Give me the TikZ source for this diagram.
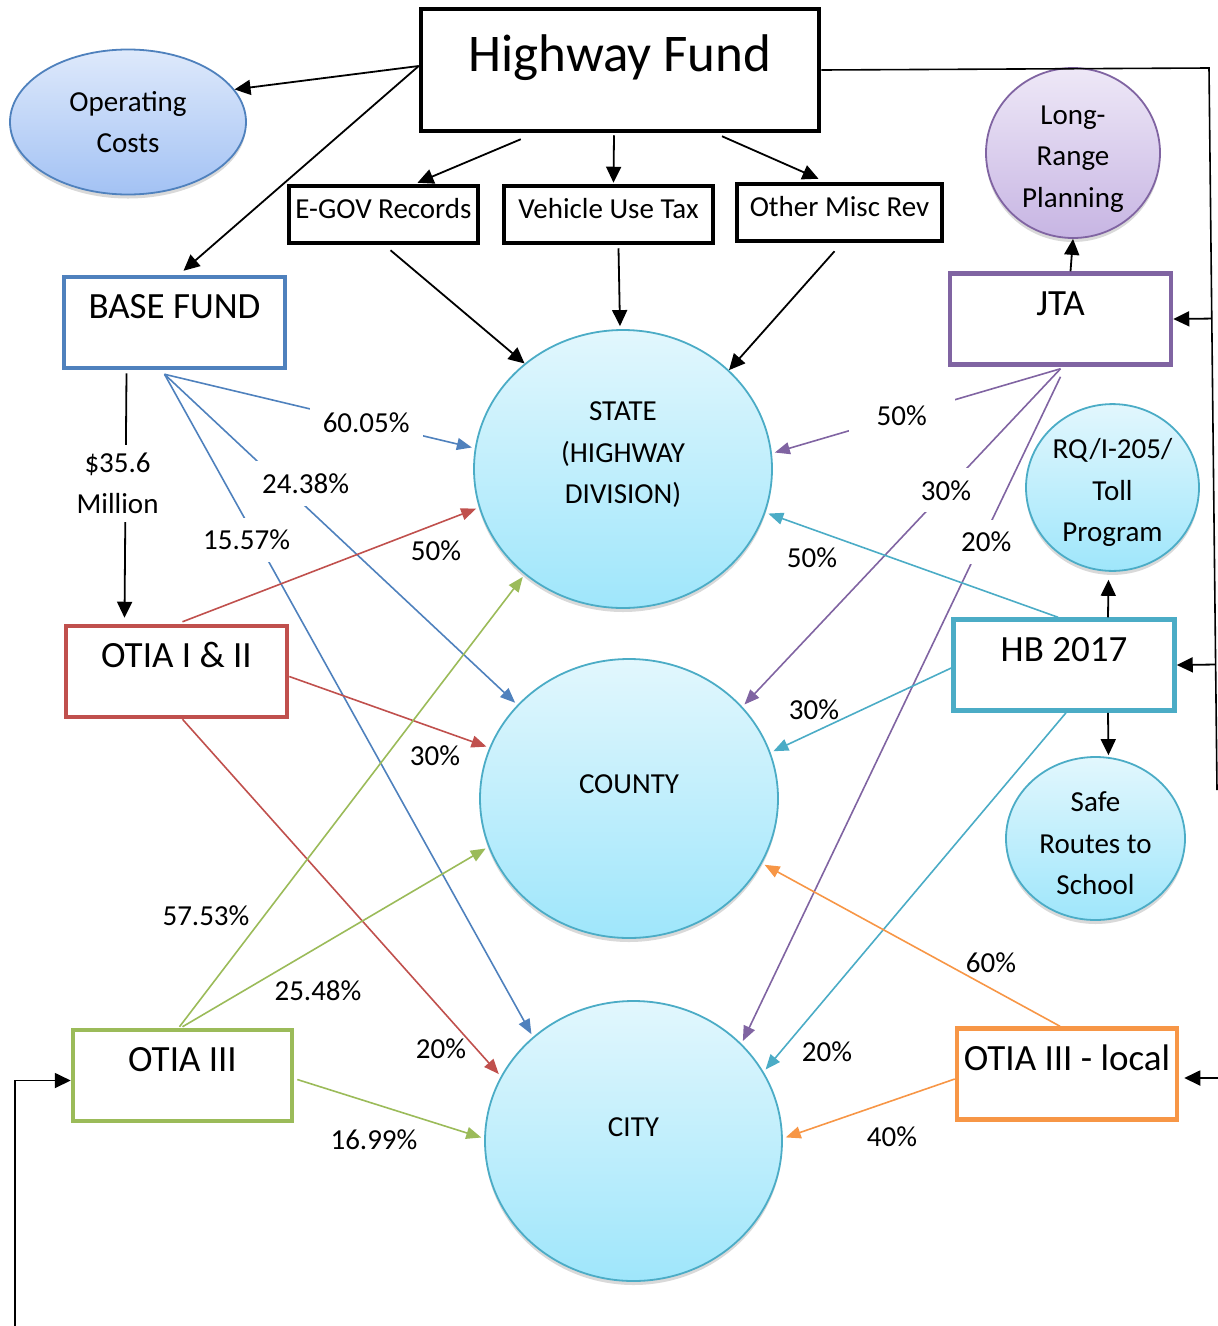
\documentclass[tikz,border=0pt]{standalone}
\usepackage{fontspec}
\setmainfont{Carlito}
\usepackage{xcolor}
\usepackage{tikz}
\usetikzlibrary{arrows.meta,calc,shapes.geometric,shadows}

\definecolor{hwblue}{HTML}{4F81BD}
\definecolor{hwred}{HTML}{C0504D}
\definecolor{hwgreen}{HTML}{9BBB59}
\definecolor{hwpurple}{HTML}{8064A2}
\definecolor{hwteal}{HTML}{4BACC6}
\definecolor{hworange}{HTML}{F79646}
\definecolor{cytop}{HTML}{E2F7FD}
\definecolor{cybot}{HTML}{9FE6FB}
\definecolor{optop}{HTML}{DEE9FB}
\definecolor{opbot}{HTML}{A3C2F4}
\definecolor{lrtop}{HTML}{EEE8F7}
\definecolor{lrbot}{HTML}{C7B5E3}

\newcommand{\lift}{\rule{0pt}{30pt}}

\tikzset{
	srcbox/.style={draw=black, line width=4.5pt, fill=white, minimum height=57pt, inner sep=0pt,
		text height=22pt, text depth=14pt, font=\fontsize{29}{35}\selectfont},
	fundbox/.style={draw, line width=4.5pt, fill=white, minimum width=221pt, minimum height=91pt,
		inner sep=0pt, text height=28pt, text depth=36pt, font=\fontsize{37}{44}\selectfont},
	oval/.style={ellipse, draw=hwteal, line width=1.8pt, top color=cytop, bottom color=cybot,
		inner sep=0pt, align=center, font=\fontsize{29}{41.5}\selectfont,
		drop shadow={opacity=0.3, shadow xshift=0pt, shadow yshift=-4pt}},
	ovaltext/.style={align=center, font=\fontsize{29}{41.5}\selectfont},
	pct/.style={text=black, font=\fontsize{29}{35}\selectfont},
	pctl/.style={pct, fill=white, inner xsep=6pt, inner ysep=12pt},
	feed/.style={line width=1.8pt, -{Triangle[length=16pt,width=15pt]}},
	wire/.style={line width=1.6pt},
	flow/.style={line width=1.6pt, -{Triangle[length=15pt,width=12pt]}, shorten >=3pt}
}

\begin{document}
\begin{tikzpicture}[x=1pt, y=-1pt]
	\useasboundingbox (0,0) rectangle (1218,1326);

	% revenue sources
	\node[srcbox, minimum width=398pt, minimum height=122pt, text height=40pt, text depth=38pt,
		font=\fontsize{53}{60}\selectfont] (hwy) at (620,70) {Highway Fund};
	\node[srcbox, minimum width=189pt] (egov) at (383.5,214.5) {E-GOV Records};
	\node[srcbox, minimum width=209pt] (vut) at (608.5,214.5) {Vehicle Use Tax};
	\node[srcbox, minimum width=205pt] (misc) at (839.5,212.5) {Other Misc Rev};

	\node[oval, draw=hwblue, top color=optop, bottom color=opbot, minimum width=236pt, minimum height=145pt] (opcost) at (128,122) {Operating\\Costs};
	\node[oval, draw=hwpurple, top color=lrtop, bottom color=lrbot, minimum width=174pt, minimum height=170pt] (lrp) at (1073,153) {\lift Long-\\Range\\Planning};
	\node[oval, minimum width=173pt, minimum height=165pt] (rq) at (1112.5,487.5) {\lift RQ/I-205/\\Toll\\Program};
	\node[oval, minimum width=179pt, minimum height=163pt] (safe) at (1095.5,838.5) {\lift Safe\\Routes to\\School};

	% receivers
	\node[oval, minimum width=298pt, minimum height=278pt] (state) at (623,469) {};
	\node[ovaltext] (statetxt) at ($(state)+(0,-14)$) {STATE\\(HIGHWAY\\DIVISION)};
	\node[oval, minimum width=298pt, minimum height=279pt] (county) at (629,798.5) {};
	\node[ovaltext] (countytxt) at ($(county)+(0,-14)$) {COUNTY};
	\node[oval, minimum width=297pt, minimum height=280pt] (city) at (633.5,1141) {};
	\node[ovaltext] (citytxt) at ($(city)+(0,-14)$) {CITY};

	% funds
	\node[fundbox, draw=hwblue] (base) at (174.5,322.5) {BASE FUND};
	\node[fundbox, draw=hwpurple] (jta) at (1060.5,319) {JTA};
	\node[fundbox, draw=hwred] (otia12) at (176.5,671.5) {OTIA I \& II};
	\node[fundbox, draw=hwteal] (hb) at (1064,665) {HB 2017};
	\node[fundbox, draw=hwgreen, minimum width=219pt] (otia3) at (182.5,1075.5) {OTIA III};
	\node[fundbox, draw=hworange, minimum width=220pt] (otia3l) at (1067,1074) {OTIA III - local};

	% black feeds
	\draw[feed] ($(hwy.west)+(0,-4)$) -- (opcost.17);
	\draw[feed] ($(hwy.west)+(0,-4)$) -- ($(base.north)+(9,-4)$);
	\draw[feed] ($(hwy.south west)+(102,6)$) -- ($(egov.north)+(34,-1)$);
	\draw[feed] ($(hwy.south)+(-6,2)$) -- ($(vut.north)+(5,-1)$);
	\draw[feed] ($(hwy.south)+(102,3)$) -- ($(misc.north)+(-21,-3)$);
	\draw[feed] ($(egov.south)+(7,5)$) -- (state.133);
	\draw[feed] ($(vut.south)+(10,3)$) -- ($(state.north)+(-3,-3)$);
	\draw[feed] ($(misc.south)+(-5,8)$) -- (state.43);

	\coordinate (rtop) at (1209,68);
	\coordinate (rbot) at (1217,790);
	\draw[wire] (hwy.east) -- (rtop) -- (rbot);
	\draw[feed] ($(rtop)!(jta.east)!(rbot)$) -- (jta.east);
	\draw[feed] ($(rtop)!(hb.east)!(rbot)$) -- (hb.east);
	\coordinate (redge) at (1218,1078);
	\draw[feed] (redge) -- ($(otia3l.east)+(5,4)$);
	\coordinate (lbot) at (15,1326);
	\draw[feed] (lbot) |- ($(otia3.west)+(0,5)$);

	\draw[feed] ($(jta.north)+(10,0)$) -- (lrp.south);
	\draw[feed] ($(hb.north)+(44,0)$) -- ($(rq.south)+(-4,8)$);
	\draw[feed] ($(hb.south)+(44,0)$) -- ($(safe.north)+(13,-1)$);
	\draw[feed] ($(base.south)+(-48,3)$) -- node[pctl, pos=0.45, xshift=-8pt, inner ysep=8pt, align=center,
		font=\fontsize{29}{41}\selectfont] (lmil) {\$35.6\\Million} ($(otia12.north)+(-52,-6)$);

	% BASE FUND split
	\coordinate (bsplit) at ($(base.south)+(-10,4)$);
	\draw[flow, hwblue] (bsplit) -- node[pctl, pos=0.65, inner xsep=13pt] (l6005) {60.05\%} (state.172);
	\draw[flow, hwblue] (bsplit) -- node[pctl, pos=0.40, yshift=23pt] (l2438) {24.38\%} (county.140);
	\draw[flow, hwblue] (bsplit) -- node[pctl, pos=0.25, xshift=-10pt] (l1557) {15.57\%} (city.134);

	% OTIA I & II split
	\draw[flow, hwred] ($(otia12.north)+(6,-2)$) -- (state.195);
	\draw[flow, hwred] ($(otia12.east)+(0,5)$) -- (county.160);
	\draw[flow, hwred] ($(otia12.south)+(6,0)$) -- (city.154);
	\node[pct] (r50) at (436,551) {50\%};
	\node[pct] (r30) at (435,756) {30\%};
	\node[pct] (r20) at (441,1049) {20\%};

	% OTIA III split
	\draw[flow, hwgreen] ($(otia3.north)+(-3,-1)$) -- (state.227);
	\draw[flow, hwgreen] ($(otia3.north)+(0,-1)$) -- (county.199);
	\draw[flow, hwgreen] ($(otia3.east)+(3,4)$) -- (city.179);
	\node[pct] (g5753) at (206,916) {57.53\%};
	\node[pct] (g2548) at (318,991) {25.48\%};
	\node[pct] (g1699) at (374,1140) {16.99\%};

	% JTA split
	\coordinate (jsplit) at ($(jta.south)+(0,2)$);
	\draw[flow, hwpurple] (jsplit) -- node[pctl, pos=0.55, inner xsep=28pt] (j50) {50\%} (state.6);
	\draw[flow, hwpurple] (jsplit) -- node[pctl, pos=0.36] (j30) {30\%} (county.39);
	\draw[flow, hwpurple] ($(jsplit)+(0,8)$) -- node[pctl, pos=0.255, xshift=7pt, yshift=5pt] (j20) {20\%} (city.42);

	% HB 2017 split
	\draw[flow, hwteal] ($(hb.north)+(-6,0)$) -- (state.343);
	\draw[flow, hwteal] ($(hb.west)+(0,3)$) -- (county.18);
	\draw[flow, hwteal] ($(hb.south)+(2,0)$) -- (city.28);
	\node[pct] (t50) at (812,558) {50\%};
	\node[pct] (t30) at (814,710) {30\%};
	\node[pct] (t20) at (827,1052) {20\%};

	% OTIA III - local split
	\draw[flow, hworange] ($(otia3l.north)+(-7,0)$) -- (county.334);
	\draw[flow, hworange] ($(otia3l.west)+(0,5)$) -- (city.1);
	\node[pct] (o60) at (991,963) {60\%};
	\node[pct] (o40) at (892,1137) {40\%};
\end{tikzpicture}
\end{document}
